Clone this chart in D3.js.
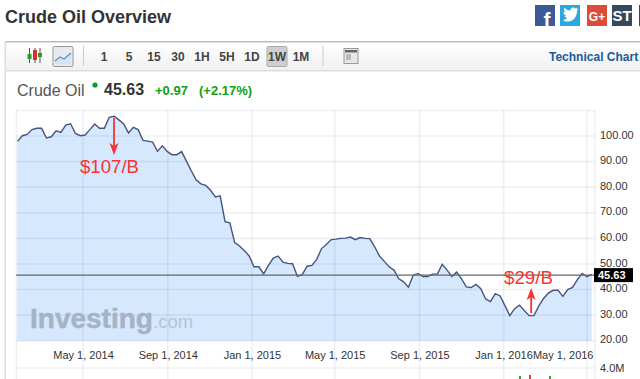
<!DOCTYPE html>
<html><head><meta http-equiv="Content-Type" content="text/html; charset=UTF-8">
<style>
html, body { margin: 0; padding: 0; background: #fff; overflow: hidden; }
svg { display: block; font-family: "Liberation Sans", Arial, sans-serif; }
.grid line { stroke: #3c5082; stroke-opacity: 0.085; stroke-width: 1.6px; }
.axis path, .axis line { display: none; }
.axis text { font-size: 11px; fill: #333; font-family: "Liberation Sans", Arial, sans-serif; }
.tb { font-size: 12px; font-weight: bold; fill: #444; text-anchor: middle; }
</style>
</head>
<body>
<svg width="640" height="379"></svg>
<script src="https://cdn.jsdelivr.net/npm/d3@7"></script>
<script>

// weekly closes, first week is Jan 26 2014
var firstWeek = "2014-01-26";
var closes = [
  97.9, 100.1, 100.6, 102.5, 103, 103, 99.2, 99.7, 102, 101.4,
  104.3, 104.8, 101, 100.1, 100.4, 102.5, 104.7, 103, 103, 107.3,
  107.7, 106.3, 104.7, 101.2, 103.4, 102.5, 98.3, 98, 97.6, 94,
  96.2, 94, 92.7, 92.7, 93.9, 90.2, 86.4, 82.9, 81.3, 80.7,
  78.8, 76.2, 76.6, 66.5, 66.1, 58.3, 57, 55.2, 53.1, 48.9,
  48.9, 46.1, 49.4, 52.3, 53.1, 50.7, 50.2, 50.1, 45.1, 45.8,
  49.1, 49.4, 51.8, 56, 57.6, 59.5, 59.7, 60, 60.1, 60.5,
  59.5, 60.3, 60, 59.9, 56.7, 53.1, 51, 48.9, 47.6, 44.2,
  43, 40.9, 45.6, 46.3, 45.1, 45.1, 46, 46, 49.9, 47.6,
  45.1, 46.8, 44.2, 41, 40.8, 42, 40.3, 36.3, 35.3, 38.4,
  37.5, 33.7, 29.8, 32.5, 33.9, 31.8, 29.8, 29.8, 33.5, 36.5,
  38.6, 39.7, 39.7, 37.3, 40, 40.8, 43.9, 46.3, 45, 45.9
];
var lastPrice = 45.63;
var priceTicks = [100, 90, 80, 70, 60, 50, 40, 30, 20];
var dateTicks = ["2014-05-01", "2014-09-01", "2015-01-01", "2015-05-01", "2015-09-01", "2016-01-01", "2016-05-01"];
var intervals = ["1", "5", "15", "30", "1H", "5H", "1D", "1W", "1M"];
var intervalX = [104, 129, 154, 178, 202, 227, 252, 277, 301];
var notes = [
  { text: "$107/B", date: "2014-06-15", from: 107, to: 92.6 },
  { text: "$29/B", date: "2016-02-10", from: 30.8, to: 40.6 }
];

var parseDay = d3.utcParse("%Y-%m-%d");
var data = closes.map(function(c, i) {
  return { date: d3.utcDay.offset(parseDay(firstWeek), i * 7), close: c };
});

var svg = d3.select("svg");

var x = d3.scaleUtc()
    .domain([parseDay("2014-05-01"), parseDay("2016-05-01")])
    .range([83, 587]);
var y = d3.scaleLinear().domain([20, 100]).range([340.7, 136]);

// page heading
svg.append("text").attr("x", 5).attr("y", 23)
    .style("font-size", "18px").style("font-weight", "bold").attr("fill", "#333")
    .text("Crude Oil Overview");

// share buttons
var share = [
  { x: 535, c: "#3b5998", t: "f", s: 21 },
  { x: 560, c: "#2aa9e0", t: "", s: 12 },
  { x: 587, c: "#dd4b39", t: "G+", s: 12 },
  { x: 612, c: "#34495e", t: "ST", s: 15 }
];
share.forEach(function(b) {
  svg.append("rect").attr("x", b.x).attr("y", 5).attr("width", 20).attr("height", 21).attr("fill", b.c);
  svg.append("text").attr("x", b.x + (b.t == "f" ? 12 : 10)).attr("y", b.t == "f" ? 27 : 21)
      .attr("text-anchor", "middle").attr("fill", "#fff")
      .style("font-size", b.s + "px").style("font-weight", "bold").text(b.t);
});
svg.append("path").attr("fill", "#fff")
    .attr("d", "M564 21c5 2 13-1 13-10l1.500-2-2 .5 1-2-2 1c-2-2-5-1-5 2-3 0-5-1-6-3-1 2-.5 4 1 5l-2-.5c0 2 1 3 3 4h-2c.5 1 2 2 3 2-1 1-3 2-4 1.500z");
svg.append("rect").attr("x", 639).attr("y", 5).attr("width", 1).attr("height", 21).attr("fill", "#444");

// toolbar
var tbGrad = svg.append("defs").append("linearGradient")
    .attr("id", "tb").attr("x1", 0).attr("x2", 0).attr("y1", 0).attr("y2", 1);
tbGrad.append("stop").attr("offset", 0).attr("stop-color", "#fff");
tbGrad.append("stop").attr("offset", 1).attr("stop-color", "#f1f1f1");
svg.append("rect").attr("x", 5).attr("y", 42).attr("width", 635).attr("height", 28).attr("fill", "url(#tb)");
svg.append("rect").attr("x", 5).attr("y", 41).attr("width", 635).attr("height", 1.5).attr("fill", "#bbb");
svg.append("rect").attr("x", 5).attr("y", 70).attr("width", 635).attr("height", 1.5).attr("fill", "#ddd");
svg.append("rect").attr("x", 4.500).attr("y", 41).attr("width", 1.5).attr("height", 338).attr("fill", "#ddd");

svg.append("rect").attr("x", 53).attr("y", 46.500).attr("width", 20).attr("height", 20).attr("rx", 1.5)
    .attr("fill", "#e6e9ee").attr("stroke", "#999");
svg.append("path").attr("d", "M55 64v-3l5-4 4 2 7-6v11z").attr("fill", "#d5e3f2");
svg.append("path").attr("d", "M55 61l5-4 4 2 7-6").attr("fill", "none").attr("stroke", "#5a93cc").attr("stroke-width", 1.3);

[[29.500, "#2c9a2c", 54, 59], [35, "#d8302c", 50, 60], [40, "#2c9a2c", 53, 57]].forEach(function(k) {
  svg.append("line").attr("x1", k[0]).attr("x2", k[0]).attr("y1", 48).attr("y2", 63).attr("stroke", "#555");
  svg.append("rect").attr("x", k[0] - 2).attr("y", k[2]).attr("width", 4).attr("height", k[3] - k[2]).attr("fill", k[1]);
});

svg.append("rect").attr("x", 83).attr("y", 46).attr("width", 1).attr("height", 20).attr("fill", "#ccc");
svg.append("rect").attr("x", 322.500).attr("y", 46).attr("width", 1).attr("height", 20).attr("fill", "#ccc");
svg.append("rect").attr("x", 267).attr("y", 46.500).attr("width", 20).attr("height", 20).attr("rx", 1.5)
    .attr("fill", "#cfcfcf").attr("stroke", "#aaa");

svg.selectAll(".tb").data(intervals).enter().append("text")
    .attr("class", "tb")
    .attr("x", function(d, i) { return intervalX[i]; })
    .attr("y", 60.500)
    .text(function(d) { return d; });

svg.append("rect").attr("x", 344).attr("y", 48.500).attr("width", 14).attr("height", 15).attr("fill", "#e8e8e8").attr("stroke", "#999");
svg.append("rect").attr("x", 345).attr("y", 50).attr("width", 12).attr("height", 2.5).attr("fill", "#666");
svg.append("rect").attr("x", 346).attr("y", 54).attr("width", 5).attr("height", 6).attr("fill", "#bbb");

svg.append("text").attr("x", 549).attr("y", 61)
    .style("font-size", "12px").style("font-weight", "bold").attr("fill", "#1a5a9e")
    .text("Technical Chart");

// price line above the chart
svg.append("text").attr("x", 17).attr("y", 96).style("font-size", "16px").attr("fill", "#555").text("Crude Oil");
svg.append("circle").attr("cx", 95).attr("cy", 85).attr("r", 2.6).attr("fill", "#0a9a2a");
svg.append("text").attr("x", 104).attr("y", 95).style("font-size", "16px").style("font-weight", "bold").attr("fill", "#333").text("45.63");
svg.append("text").attr("x", 155).attr("y", 95).style("font-size", "13px").style("font-weight", "bold").attr("fill", "#11a011").text("+0.97");
svg.append("text").attr("x", 199).attr("y", 95).style("font-size", "13px").style("font-weight", "bold").attr("fill", "#11a011").text("(+2.17%)");

// plot
var area = d3.area()
    .x(function(d) { return x(d.date); })
    .y0(y(20))
    .y1(function(d) { return y(d.close); });
var line = d3.line()
    .x(function(d) { return x(d.date); })
    .y(function(d) { return y(d.close); });

svg.append("path").datum(data).attr("d", area).attr("fill", "#d5e8fd");

var g = svg.append("g").attr("class", "grid");
g.selectAll(".h").data(priceTicks).enter().append("line").attr("class", "h")
    .attr("x1", 16).attr("x2", 595)
    .attr("y1", function(d) { return y(d); })
    .attr("y2", function(d) { return y(d); });
g.selectAll(".v").data(dateTicks).enter().append("line").attr("class", "v")
    .attr("x1", function(d) { return x(parseDay(d)); })
    .attr("x2", function(d) { return x(parseDay(d)); })
    .attr("y1", 110).attr("y2", 379);
g.append("line").attr("x1", 16).attr("x2", 595).attr("y1", 110.500).attr("y2", 110.500);
g.append("line").attr("x1", 16).attr("x2", 595).attr("y1", 368).attr("y2", 368);
g.append("line").attr("x1", 16.500).attr("x2", 16.500).attr("y1", 110).attr("y2", 379);
g.append("line").attr("x1", 595).attr("x2", 595).attr("y1", 110).attr("y2", 379);

// watermark
svg.append("text").attr("x", 30).attr("y", 328)
    .style("font-size", "28px").style("font-weight", "bold")
    .attr("fill", "#a6b3c6").attr("stroke", "#a6b3c6").attr("stroke-width", 0.5).text("Investing");
svg.append("text").attr("x", 153).attr("y", 328)
    .style("font-size", "18.500px").attr("fill", "#b6c4d6").text(".com");

svg.append("path").datum(data).attr("d", line)
    .attr("fill", "none").attr("stroke", "#46557f").attr("stroke-width", 1.4);

svg.append("line").attr("x1", 16).attr("x2", 595)
    .attr("y1", y(lastPrice)).attr("y2", y(lastPrice))
    .attr("stroke", "#666").attr("stroke-width", 1.3);

// axes
var yAxis = svg.append("g").attr("class", "axis")
    .attr("transform", "translate(595,0)")
    .call(d3.axisRight(y).tickValues(priceTicks).tickFormat(d3.format(".2f")).tickSize(0).tickPadding(5));
yAxis.selectAll("text").attr("dy", "0.2em");

var xAxis = svg.append("g").attr("class", "axis")
    .attr("transform", "translate(0,348)")
    .call(d3.axisBottom(x).tickValues(dateTicks.map(parseDay)).tickFormat(d3.utcFormat("%b %-d, %Y")).tickSize(0).tickPadding(3));
xAxis.selectAll("text").filter(function(d, i) { return i == dateTicks.length - 1; })
    .attr("text-anchor", "end").attr("dx", 6);

svg.append("text").attr("x", 600).attr("y", 372).style("font-size", "11px").attr("fill", "#333").text("4.0M");

// last price tag
svg.append("rect").attr("x", 594).attr("y", y(lastPrice) - 7).attr("width", 39).attr("height", 14).attr("fill", "#000");
svg.append("text").attr("x", 598).attr("y", y(lastPrice) + 4)
    .style("font-size", "11px").style("font-weight", "bold").attr("fill", "#fff").text("45.63");

// hand drawn notes
notes.forEach(function(n) {
  var nx = x(parseDay(n.date)), y0 = y(n.from), y1 = y(n.to), dir = y1 > y0 ? -1 : 1;
  svg.append("line").attr("x1", nx).attr("x2", nx).attr("y1", y0).attr("y2", y1 + dir * 8)
      .attr("stroke", "#f83434").attr("stroke-width", 1.8);
  svg.append("path").attr("fill", "#f83434")
      .attr("d", d3.line()([[nx, y1], [nx - 4.5, y1 + dir * 12], [nx, y1 + dir * 9], [nx + 4.5, y1 + dir * 12]]) + "Z");
});
svg.append("text").attr("x", 80).attr("y", 173).attr("textLength", 59).attr("lengthAdjust", "spacingAndGlyphs")
    .style("font-size", "18px").attr("fill", "#f83434").text(notes[0].text);
svg.append("text").attr("x", 504).attr("y", 284).attr("textLength", 49).attr("lengthAdjust", "spacingAndGlyphs")
    .style("font-size", "18px").attr("fill", "#f83434").text(notes[1].text);

// top of the volume bars at the bottom edge
[[519, "#3aa04a", 376], [529, "#d0443a", 375], [549, "#3aa04a", 376]].forEach(function(b) {
  svg.append("rect").attr("x", b[0]).attr("y", b[2]).attr("width", 2).attr("height", 379 - b[2]).attr("fill", b[1]);
});

</script>
</body></html>
